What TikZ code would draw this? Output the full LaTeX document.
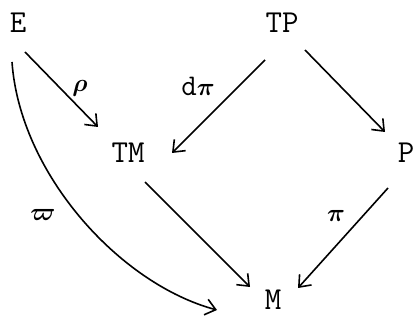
\documentclass[tikz,border=0pt]{standalone}
\usepackage{amsmath}
\usetikzlibrary{arrows.meta}
\begin{document}
\begin{tikzpicture}[x=1pt,y=1pt,
  lbl/.style={font=\fontsize{32}{32}\selectfont\ttfamily, inner sep=0pt, anchor=center},
  glbl/.style={font=\fontsize{30}{30}\selectfont, inner sep=0pt, anchor=center},
  arr/.style={line width=1.6pt, -{Straight Barb[length=10pt,width=16pt,line width=1.6pt]}}]
\useasboundingbox (0,0) rectangle (415,324);
% objects
\node[lbl] (E)  at (18,301) {E};
\node[lbl] (TP) at (282,301) {TP};
\node[lbl] (TM) at (128,171) {TM};
\node[lbl] (P)  at (406,171) {P};
\node[lbl] (M)  at (273,24) {M};
% labels
\node[glbl] (rho) at (80,236) {$\boldsymbol{\rho}$};
\node[glbl] (dpi) at (198,238) {{\ttfamily d}$\boldsymbol{\pi}$};
\node[glbl] (pi)  at (336,108) {$\boldsymbol{\pi}$};
\node[glbl] (om)  at (43,109) {$\boldsymbol{\varpi}$};
% endpoints
\path (E)  ++(7,-29)   coordinate (Ea);
\path (E)  ++(-6,-39)  coordinate (Eb);
\path (TM) ++(-30,26)  coordinate (TMa);
\path (TM) ++(44,0)    coordinate (TMb);
\path (TM) ++(17,-29)  coordinate (TMc);
\path (TP) ++(-17,-37) coordinate (TPa);
\path (TP) ++(23,-27)  coordinate (TPb);
\path (P)  ++(-21,21)  coordinate (Pa);
\path (P)  ++(-18,-35) coordinate (Pb);
\path (M)  ++(-23,13)  coordinate (Ma);
\path (M)  ++(25,12)   coordinate (Mb);
\path (M)  ++(-56,-10) coordinate (Mc);
% arrows
\draw[arr] (Ea) -- (TMa);
\draw[arr] (TPa) -- (TMb);
\draw[arr] (TPb) -- (Pa);
\draw[arr] (TMc) -- (Ma);
\draw[arr] (Pb) -- (Mb);
\draw[arr] (Eb) .. controls (20,150) and (120,40) .. (Mc);
\end{tikzpicture}
\end{document}
